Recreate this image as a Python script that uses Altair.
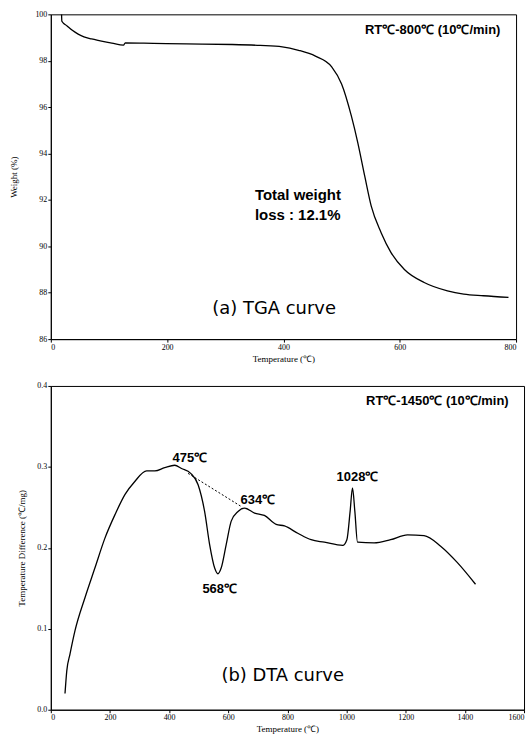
import altair as alt
import pandas as pd

# ---------------- TGA data ----------------
tga_temp = [18.5, 19, 28, 37, 47, 57, 70, 85, 105, 125, 128, 160, 199, 260, 312, 360, 398,
            426, 455, 483, 500, 517, 528, 540, 551, 568, 585, 608, 642, 682, 710, 744, 787]
tga_weight = [99.99, 99.70, 99.50, 99.31, 99.15, 99.03, 98.94, 98.86, 98.76, 98.67, 98.77,
              98.76, 98.74, 98.72, 98.70, 98.66, 98.60, 98.45, 98.20, 97.74, 97.00, 95.60,
              94.45, 93.00, 91.73, 90.59, 89.73, 89.00, 88.44, 88.08, 87.94, 87.87, 87.80]

# ---------------- DTA data ----------------
dta_temp = [48, 54, 65, 82, 116, 149, 183, 217, 251, 284, 324, 352, 385, 419, 442, 473,
            498, 520, 537, 554, 565, 576, 593, 610, 633, 655, 689, 722, 762, 790, 835, 880,
            925, 987, 1001, 1012, 1020, 1028, 1037, 1093, 1149, 1206, 1262, 1318, 1374, 1436]
dta_diff = [0.020, 0.048, 0.069, 0.098, 0.139, 0.175, 0.212, 0.241, 0.266, 0.282, 0.295,
            0.295, 0.299, 0.302, 0.298, 0.292, 0.278, 0.245, 0.204, 0.175, 0.168, 0.175,
            0.204, 0.233, 0.245, 0.249, 0.243, 0.240, 0.229, 0.227, 0.218, 0.210, 0.207,
            0.203, 0.210, 0.245, 0.274, 0.245, 0.207, 0.206, 0.210, 0.216, 0.215, 0.202,
            0.182, 0.155]

dash_temp = [464, 644]
dash_diff = [0.292, 0.251]

# ---------------- annotations ----------------
tga_labels = ["RT℃-800℃ (10℃/min)"]
tga_label_T = [773]
tga_label_W = [99.34]

tga_note = ["Total weight", "loss : 12.1%"]
tga_note_T = [351, 351]
tga_note_W = [92.23, 91.33]

tga_caption = ["(a) TGA curve"]
tga_caption_T = [384]
tga_caption_W = [87.3]

dta_labels = ["RT℃-1450℃ (10℃/min)"]
dta_label_T = [1548]
dta_label_D = [0.381]

dta_peaks = ["475℃", "634℃", "568℃", "1028℃"]
dta_peak_T = [470, 700, 571, 1037]
dta_peak_D = [0.311, 0.259, 0.149, 0.288]

dta_caption = ["(b) DTA curve"]
dta_caption_T = [784]
dta_caption_D = [0.042]

# ---------------- TGA panel ----------------
tga_df = pd.DataFrame({"T": tga_temp, "W": tga_weight, "i": range(len(tga_temp))})

xs_tga = alt.Scale(domain=[0, 800], nice=False)
ys_tga = alt.Scale(domain=[86, 100], nice=False)

tga_line = alt.Chart(tga_df).mark_line(color="black", strokeWidth=1.3, interpolate="monotone").encode(
    x=alt.X("T:Q", scale=xs_tga,
            axis=alt.Axis(values=[0, 200, 400, 600, 800], title="Temperature (℃)",
                          format="d", minExtent=10)),
    y=alt.Y("W:Q", scale=ys_tga,
            axis=alt.Axis(values=[86, 88, 90, 92, 94, 96, 98, 100], title="Weight (%)",
                          format="d", minExtent=29, maxExtent=29)),
    order="i:Q",
)

tga_rt = alt.Chart(pd.DataFrame({"T": tga_label_T, "W": tga_label_W, "t": tga_labels})).mark_text(
    align="right", baseline="middle", font="Liberation Sans", fontWeight="bold", fontSize=13,
    color="black").encode(x="T:Q", y="W:Q", text="t:N")

tga_nt = alt.Chart(pd.DataFrame({"T": tga_note_T, "W": tga_note_W, "t": tga_note})).mark_text(
    align="left", baseline="middle", font="Liberation Sans", fontWeight="bold", fontSize=15,
    color="black").encode(x="T:Q", y="W:Q", text="t:N")

tga_cap = alt.Chart(pd.DataFrame({"T": tga_caption_T, "W": tga_caption_W, "t": tga_caption})).mark_text(
    align="center", baseline="middle", font="DejaVu Sans", fontWeight="normal", fontSize=18,
    color="black").encode(x="T:Q", y="W:Q", text="t:N")

top = alt.layer(tga_line, tga_rt, tga_nt, tga_cap).properties(width=467, height=326)

# ---------------- DTA panel ----------------
dta_df = pd.DataFrame({"T": dta_temp, "D": dta_diff, "i": range(len(dta_temp))})

xs_dta = alt.Scale(domain=[0, 1600], nice=False)
ys_dta = alt.Scale(domain=[0, 0.4], nice=False)

dta_line = alt.Chart(dta_df).mark_line(color="black", strokeWidth=1.3, interpolate="monotone").encode(
    x=alt.X("T:Q", scale=xs_dta,
            axis=alt.Axis(values=list(range(0, 1601, 200)), title="Temperature (℃)",
                          format="d", minExtent=10)),
    y=alt.Y("D:Q", scale=ys_dta,
            axis=alt.Axis(values=[0, 0.1, 0.2, 0.3, 0.4], title="Temperature Difference (℃/mg)",
                          format=".1f", minExtent=21, maxExtent=21)),
    order="i:Q",
)

dta_dash = alt.Chart(pd.DataFrame({"T": dash_temp, "D": dash_diff})).mark_line(
    color="black", strokeWidth=1, strokeDash=[2, 2]).encode(x="T:Q", y="D:Q")

dta_rt = alt.Chart(pd.DataFrame({"T": dta_label_T, "D": dta_label_D, "t": dta_labels})).mark_text(
    align="right", baseline="middle", font="Liberation Sans", fontWeight="bold", fontSize=13,
    color="black").encode(x="T:Q", y="D:Q", text="t:N")

dta_pk = alt.Chart(pd.DataFrame({"T": dta_peak_T, "D": dta_peak_D, "t": dta_peaks})).mark_text(
    align="center", baseline="middle", font="Liberation Sans", fontWeight="bold", fontSize=13,
    color="black").encode(x="T:Q", y="D:Q", text="t:N")

dta_cap = alt.Chart(pd.DataFrame({"T": dta_caption_T, "D": dta_caption_D, "t": dta_caption})).mark_text(
    align="center", baseline="middle", font="DejaVu Sans", fontWeight="normal", fontSize=18,
    color="black").encode(x="T:Q", y="D:Q", text="t:N")

bottom = alt.layer(dta_line, dta_dash, dta_rt, dta_pk, dta_cap).properties(width=475, height=325)

chart = alt.vconcat(top, bottom, spacing=17).properties(
    padding={"left": 9, "top": 8, "right": 6, "bottom": 5}
).configure_view(
    stroke="black", strokeWidth=1
).configure_axis(
    labelFont="Liberation Serif", labelFontSize=8, labelColor="black",
    titleFont="Liberation Serif", titleFontSize=9, titleFontWeight="normal", titleColor="black",
    domainColor="black", tickColor="black", tickSize=3, labelPadding=1, titlePadding=3,
    grid=False,
)

chart.save("out.html", embed_options={"renderer": "svg", "actions": False})
